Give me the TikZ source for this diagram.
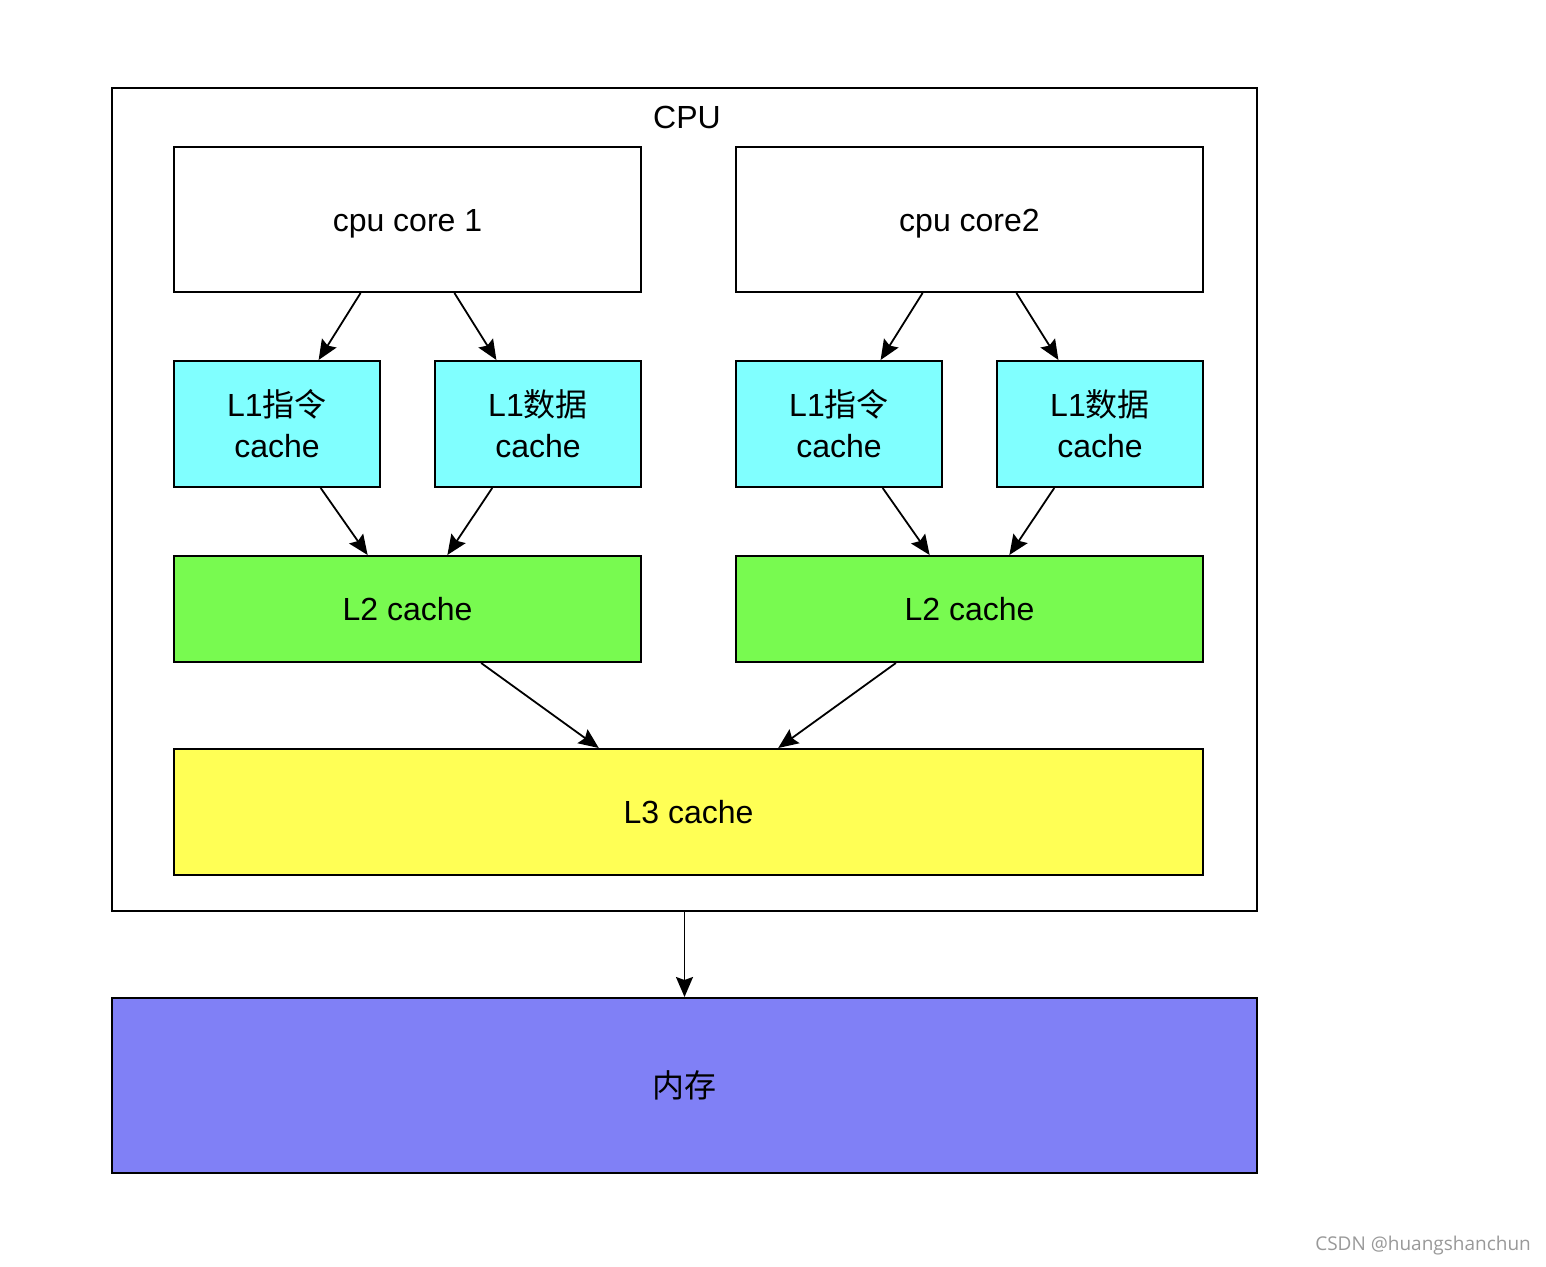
\documentclass[tikz,border=0pt]{standalone}
\usepackage{fontspec}
\setmainfont{Liberation Sans}
\newfontfamily\cjk{Noto Sans CJK SC}
\newfontfamily\wmfont{Open Sans}
\usetikzlibrary{arrows.meta,calc}
\definecolor{lone}{RGB}{128,255,255}
\definecolor{ltwo}{RGB}{120,250,80}
\definecolor{lthree}{RGB}{255,255,85}
\definecolor{mem}{RGB}{128,128,246}
\begin{document}
\begin{tikzpicture}[x=1pt,y=-1pt,
  box/.style={draw=black,line width=2pt,rectangle,anchor=north west,inner sep=0pt,
    align=center,font=\fontsize{32}{41}\selectfont},
  conn/.style={line width=1.8pt,-{Stealth[length=20pt,width=17pt,inset=3pt]}},
]
\useasboundingbox (0,0) rectangle (1546,1266);
\fill[white] (0,0) rectangle (1546,1266);
% outer CPU box
\node[box,minimum width=1145pt,minimum height=823pt] (cpu) at (111,87) {};
\node[font=\fontsize{32}{37}\selectfont,inner sep=0pt] (cpulabel) at (687,117) {CPU};
% cores
\node[box,fill=white,minimum width=467pt,minimum height=145pt] (c1) at (173,146) {\raisebox{-4pt}[\height][\depth]{cpu core 1}};
\node[box,fill=white,minimum width=467pt,minimum height=145pt] (c2) at (735,146) {\raisebox{-4pt}[\height][\depth]{cpu core2}};
% L1
\node[box,fill=lone,minimum width=206pt,minimum height=126pt] (l1a) at (173,360) {L1{\cjk 指令}\\cache};
\node[box,fill=lone,minimum width=206pt,minimum height=126pt] (l1b) at (434,360) {L1{\cjk 数据}\\cache};
\node[box,fill=lone,minimum width=206pt,minimum height=126pt] (l1c) at (735,360) {L1{\cjk 指令}\\cache};
\node[box,fill=lone,minimum width=206pt,minimum height=126pt] (l1d) at (996,360) {L1{\cjk 数据}\\cache};
% L2
\node[box,fill=ltwo,minimum width=467pt,minimum height=106pt] (l2a) at (173,555) {L2 cache};
\node[box,fill=ltwo,minimum width=467pt,minimum height=106pt] (l2b) at (735,555) {L2 cache};
% L3
\node[box,fill=lthree,minimum width=1029pt,minimum height=126pt] (l3) at (173,748) {L3 cache};
% memory
\node[box,fill=mem,minimum width=1145pt,minimum height=175pt] (mem) at (111,997) {{\cjk 内存}};
% arrows core -> L1
\draw[conn] ($(c1.south west)!0.40!(c1.south east)$) -- ($(l1a.north west)!0.70!(l1a.north east)$);
\draw[conn] ($(c1.south west)!0.60!(c1.south east)$) -- ($(l1b.north west)!0.30!(l1b.north east)$);
\draw[conn] ($(c2.south west)!0.40!(c2.south east)$) -- ($(l1c.north west)!0.70!(l1c.north east)$);
\draw[conn] ($(c2.south west)!0.60!(c2.south east)$) -- ($(l1d.north west)!0.30!(l1d.north east)$);
% L1 -> L2
\draw[conn] ($(l1a.south west)!0.71!(l1a.south east)$) -- ($(l2a.north west)!0.415!(l2a.north east)$);
\draw[conn] ($(l1b.south west)!0.28!(l1b.south east)$) -- ($(l2a.north west)!0.585!(l2a.north east)$);
\draw[conn] ($(l1c.south west)!0.71!(l1c.south east)$) -- ($(l2b.north west)!0.415!(l2b.north east)$);
\draw[conn] ($(l1d.south west)!0.28!(l1d.south east)$) -- ($(l2b.north west)!0.585!(l2b.north east)$);
% L2 -> L3
\draw[conn] ($(l2a.south west)!0.657!(l2a.south east)$) -- ($(l3.north west)!0.413!(l3.north east)$);
\draw[conn] ($(l2b.south west)!0.343!(l2b.south east)$) -- ($(l3.north west)!0.587!(l3.north east)$);
% CPU -> memory
\draw[conn] (cpu.south) -- (mem.north);
% watermark
\node[anchor=east,inner sep=0pt,text=black!40,font=\wmfont\fontsize{19}{23}\selectfont] (wm) at (1531,1246) {CSDN @huangshanchun};
\end{tikzpicture}
\end{document}
